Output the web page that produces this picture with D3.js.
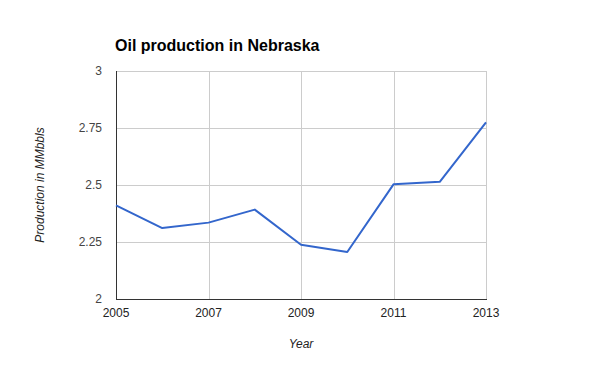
<!DOCTYPE html>
<html>
<head>
<meta charset="utf-8">
<script src="https://cdn.jsdelivr.net/npm/d3@7"></script>
<style>
  body { margin: 0; background: #fff; }
  svg { display: block; font-family: "Liberation Sans", Arial, sans-serif; }
</style>
</head>
<body>
<div id="chart"></div>
<script>
// ---- DATA ----
const years = [2005, 2006, 2007, 2008, 2009, 2010, 2011, 2012, 2013];
const production = [2.411, 2.311, 2.335, 2.392, 2.238, 2.206, 2.503, 2.514, 2.775];
const xTicks = [2005, 2007, 2009, 2011, 2013];
const yTicks = [2, 2.25, 2.5, 2.75, 3];

const width = 600, height = 371;
const margin = { top: 71, right: 114, bottom: 72, left: 116 };
const innerWidth = width - margin.left - margin.right;
const innerHeight = height - margin.top - margin.bottom;

const svg = d3.select("#chart").append("svg")
    .attr("width", width)
    .attr("height", height);

const x = d3.scaleLinear().domain([2005, 2013]).range([0, innerWidth]);
const y = d3.scaleLinear().domain([2, 3]).range([innerHeight, 0]);

const g = svg.append("g")
    .attr("transform", `translate(${margin.left},${margin.top})`);

// gridlines
g.selectAll(".hgrid")
    .data(yTicks)
    .enter().append("line")
    .attr("x1", 0).attr("x2", innerWidth)
    .attr("y1", d => Math.round(y(d)) + 0.5)
    .attr("y2", d => Math.round(y(d)) + 0.5)
    .attr("stroke", "#cccccc");

g.selectAll(".vgrid")
    .data(xTicks)
    .enter().append("line")
    .attr("x1", d => Math.round(x(d)) + 0.5)
    .attr("x2", d => Math.round(x(d)) + 0.5)
    .attr("y1", 0).attr("y2", innerHeight)
    .attr("stroke", "#cccccc");

// axis lines
g.append("line")
    .attr("x1", 0.5).attr("x2", 0.5)
    .attr("y1", 0).attr("y2", innerHeight + 0.5)
    .attr("stroke", "#333333");
g.append("line")
    .attr("x1", 0).attr("x2", innerWidth + 1)
    .attr("y1", innerHeight + 0.5).attr("y2", innerHeight + 0.5)
    .attr("stroke", "#333333");

// tick labels
g.selectAll(".ylabel")
    .data(yTicks)
    .enter().append("text")
    .attr("x", -14)
    .attr("y", d => y(d) + 4)
    .attr("text-anchor", "end")
    .attr("font-size", "12px")
    .attr("fill", "#444444")
    .text(d => d3.format("~g")(d));

g.selectAll(".xlabel")
    .data(xTicks)
    .enter().append("text")
    .attr("x", d => x(d))
    .attr("y", innerHeight + 18)
    .attr("text-anchor", "middle")
    .attr("font-size", "12px")
    .attr("fill", "#222222")
    .text(d => d);

// line
const line = d3.line()
    .x((d, i) => x(years[i]))
    .y(d => y(d));

g.append("path")
    .datum(production)
    .attr("d", line)
    .attr("fill", "none")
    .attr("stroke", "#3366cc")
    .attr("stroke-width", 2)
    .attr("stroke-linejoin", "round");

// title
svg.append("text")
    .attr("x", 115)
    .attr("y", 51)
    .attr("font-size", "16px")
    .attr("font-weight", "bold")
    .attr("fill", "#000")
    .text("Oil production in Nebraska");

// axis titles
svg.append("text")
    .attr("x", margin.left + innerWidth / 2)
    .attr("y", 348)
    .attr("text-anchor", "middle")
    .attr("font-size", "12px")
    .attr("font-style", "italic")
    .attr("fill", "#222222")
    .text("Year");

svg.append("text")
    .attr("transform", `translate(44,${margin.top + innerHeight / 2}) rotate(-90)`)
    .attr("text-anchor", "middle")
    .attr("font-size", "12px")
    .attr("font-style", "italic")
    .attr("fill", "#222222")
    .text("Production in MMbbls");
</script>
</body>
</html>
